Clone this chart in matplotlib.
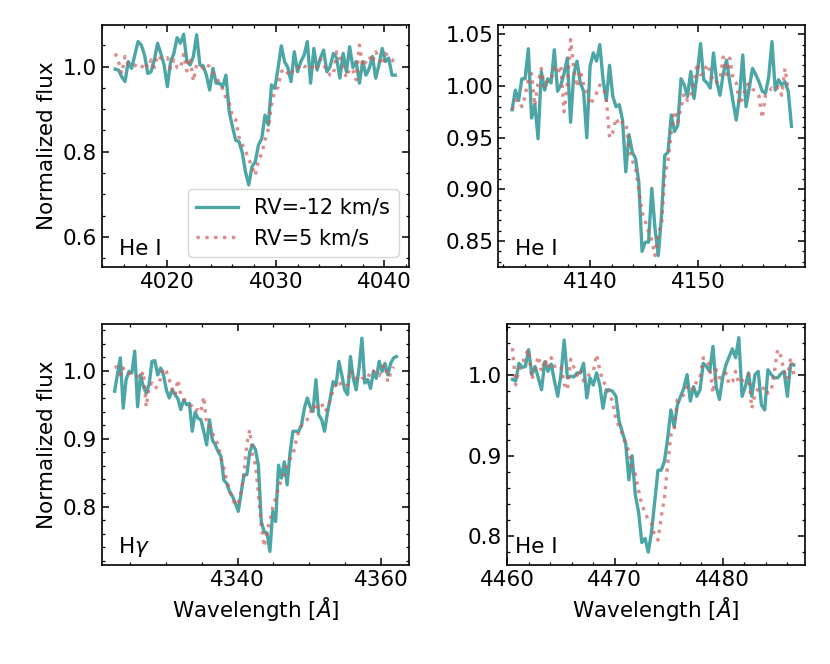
import numpy as np
import matplotlib
matplotlib.use('Agg')
import matplotlib.pyplot as plt
from matplotlib.ticker import MultipleLocator, AutoMinorLocator

# ── Spectra (normalized flux) ────────────────────────────────────────────
# each panel: start wavelength, step (Angstrom), flux for RV=-12 and RV=5

wl0_4026, dwl_4026 = 4015.2, 0.3
flux_4026_m12 = [
    0.994, 0.992, 0.976, 0.965, 1.012, 0.996, 1.027, 1.059, 1.051, 1.027,
    0.984, 0.988, 1.016, 1.055, 1.031, 1.004, 0.953, 1.012, 1.031, 1.068,
    1.055, 1.076, 1.012, 1.004, 1.024, 1.075, 1.004, 1.002, 0.980, 0.945,
    0.996, 0.961, 0.961, 0.953, 0.980, 0.894, 0.859, 0.827, 0.824, 0.798,
    0.753, 0.722, 0.765, 0.776, 0.816, 0.831, 0.886, 0.863, 0.957, 0.949,
    0.996, 1.049, 1.012, 0.998, 0.965, 1.035, 0.988, 1.012, 1.027, 1.059,
    0.961, 1.043, 0.992, 1.020, 1.039, 0.988, 1.000, 1.031, 1.020, 0.973,
    1.031, 0.988, 1.047, 0.998, 1.012, 0.961, 1.012, 0.980, 0.996, 1.024,
    0.973, 1.004, 1.043, 1.012, 1.020, 0.980, 0.980]
flux_4026_p5 = [
    1.031, 1.012, 0.984, 1.024, 1.004, 1.004, 1.004, 0.998, 0.996, 1.010,
    0.998, 1.016, 0.998, 1.027, 1.020, 1.017, 1.021, 0.996, 1.016, 0.998,
    0.996, 1.029, 0.990, 1.022, 0.966, 1.005, 1.004, 0.996, 1.005, 1.000,
    0.986, 0.976, 0.961, 0.947, 0.925, 0.914, 0.882, 0.875, 0.835, 0.817,
    0.802, 0.783, 0.765, 0.744, 0.780, 0.796, 0.827, 0.853, 0.910, 0.944,
    0.951, 0.988, 0.995, 0.984, 0.979, 1.000, 0.998, 1.005, 1.000, 1.002,
    1.004, 0.990, 1.002, 1.018, 1.004, 0.992, 0.980, 0.980, 1.035, 1.020,
    1.000, 0.974, 0.996, 0.991, 0.969, 1.051, 1.000, 1.012, 1.024, 1.010,
    1.035, 1.020, 1.004, 1.031, 1.024, 1.018, 1.004]

wl0_4144, dwl_4144 = 4132.8, 0.3
flux_4144_m12 = [
    0.977, 0.996, 0.986, 1.007, 1.007, 1.036, 0.969, 0.982, 0.949, 1.014,
    0.996, 1.007, 1.003, 1.035, 0.995, 1.001, 1.012, 1.027, 0.965, 1.012,
    1.024, 1.003, 0.995, 0.950, 1.019, 1.032, 1.024, 1.040, 1.006, 0.986,
    1.020, 0.990, 0.980, 0.982, 0.967, 0.917, 0.953, 0.936, 0.930, 0.907,
    0.840, 0.849, 0.849, 0.901, 0.862, 0.836, 0.875, 0.933, 0.936, 0.972,
    0.956, 0.962, 1.007, 1.001, 0.990, 1.014, 0.988, 1.012, 1.041, 1.006,
    1.003, 0.998, 1.032, 1.004, 0.991, 1.012, 1.025, 1.004, 0.985, 0.967,
    0.990, 1.030, 0.980, 0.998, 1.017, 1.011, 1.004, 0.995, 0.993, 1.009,
    1.043, 0.996, 1.006, 1.001, 1.004, 0.995, 0.961]
flux_4144_p5 = [
    0.977, 0.986, 0.986, 0.980, 0.990, 1.007, 1.012, 0.981, 1.003, 1.017,
    0.998, 1.007, 1.007, 1.017, 1.012, 1.020, 0.975, 1.001, 1.045, 1.017,
    0.999, 1.015, 1.002, 0.995, 0.982, 0.987, 0.993, 1.001, 0.999, 0.988,
    0.950, 0.955, 0.969, 0.962, 0.965, 0.965, 0.941, 0.928, 0.920, 0.899,
    0.878, 0.869, 0.859, 0.851, 0.836, 0.859, 0.865, 0.914, 0.928, 0.956,
    0.976, 0.965, 0.980, 0.993, 0.986, 0.990, 1.003, 1.022, 1.011, 1.012,
    1.021, 1.014, 1.003, 1.004, 1.006, 1.028, 1.011, 1.027, 1.007, 1.003,
    0.982, 0.988, 1.001, 1.002, 0.997, 0.995, 0.990, 0.969, 0.991, 0.995,
    0.998, 0.996, 0.999, 0.991, 1.017, 0.996]

wl0_hg, dwl_hg = 4322.9, 0.4
flux_hg_m12 = [
    0.970, 0.995, 1.019, 0.945, 0.987, 0.999, 0.997, 1.029, 0.947, 0.994,
    0.977, 0.967, 0.980, 1.014, 1.015, 0.994, 1.004, 0.994, 0.972, 0.960,
    0.972, 0.965, 0.959, 0.943, 0.957, 0.950, 0.952, 0.911, 0.939, 0.930,
    0.928, 0.911, 0.891, 0.928, 0.898, 0.891, 0.881, 0.874, 0.839, 0.834,
    0.822, 0.815, 0.805, 0.793, 0.820, 0.847, 0.847, 0.881, 0.891, 0.884,
    0.861, 0.778, 0.763, 0.761, 0.734, 0.793, 0.778, 0.861, 0.842, 0.866,
    0.832, 0.879, 0.911, 0.911, 0.911, 0.920, 0.945, 0.960, 0.947, 0.940,
    0.987, 0.935, 0.928, 0.911, 0.938, 0.960, 0.984, 0.979, 1.014, 0.994,
    0.972, 0.965, 1.021, 0.989, 0.972, 1.004, 1.048, 0.982, 0.987, 0.974,
    0.999, 0.989, 1.014, 0.999, 1.011, 0.994, 1.011, 1.019, 1.021]
flux_hg_p5 = [
    1.005, 1.006, 0.994, 1.004, 0.997, 0.996, 0.997, 0.994, 0.992, 0.989,
    0.999, 0.947, 0.978, 0.982, 0.974, 0.977, 0.989, 1.004, 0.999, 0.987,
    0.974, 0.964, 0.987, 0.965, 0.959, 0.954, 0.950, 0.948, 0.941, 0.943,
    0.939, 0.962, 0.920, 0.918, 0.908, 0.900, 0.891, 0.871, 0.857, 0.837,
    0.825, 0.812, 0.802, 0.805, 0.822, 0.849, 0.893, 0.913, 0.876, 0.861,
    0.820, 0.773, 0.741, 0.765, 0.778, 0.799, 0.812, 0.827, 0.839, 0.848,
    0.861, 0.870, 0.876, 0.895, 0.910, 0.920, 0.922, 0.928, 0.938, 0.950,
    0.941, 0.952, 0.952, 0.940, 0.944, 0.957, 0.973, 0.980, 0.985, 0.977,
    0.977, 0.979, 1.001, 0.990, 0.989, 0.985, 0.989, 0.988, 0.988, 1.001,
    1.000, 0.994, 0.993, 1.004, 1.009, 0.984, 0.997, 1.006]

wl0_4471, dwl_4471 = 4460.5, 0.3
flux_4471_m12 = [
    0.995, 0.993, 1.015, 1.010, 1.011, 1.032, 1.001, 1.011, 0.997, 0.982,
    1.017, 1.005, 1.014, 0.993, 0.974, 1.001, 1.044, 0.997, 0.999, 0.998,
    1.003, 1.003, 1.015, 0.972, 0.997, 0.988, 1.003, 0.988, 0.959, 0.982,
    0.982, 0.980, 0.974, 0.943, 0.929, 0.916, 0.870, 0.900, 0.851, 0.830,
    0.792, 0.797, 0.780, 0.805, 0.843, 0.882, 0.882, 0.893, 0.922, 0.957,
    0.936, 0.963, 0.974, 0.984, 1.001, 0.968, 0.986, 0.974, 0.982, 1.015,
    1.011, 1.005, 1.036, 0.986, 0.970, 0.997, 1.013, 1.023, 1.033, 1.022,
    1.047, 0.974, 0.986, 1.003, 0.974, 1.001, 1.005, 0.963, 0.957, 1.007,
    1.001, 0.997, 0.997, 1.002, 1.005, 0.974, 1.013, 1.013]
flux_4471_p5 = [
    1.034, 0.988, 1.007, 1.012, 1.026, 1.032, 0.995, 1.007, 1.024, 1.005,
    1.020, 1.009, 1.022, 1.011, 1.013, 1.011, 0.989, 0.982, 1.020, 1.010,
    1.000, 1.007, 0.993, 0.998, 1.002, 1.005, 1.026, 1.007, 0.992, 0.988,
    0.975, 0.968, 0.945, 0.936, 0.927, 0.914, 0.906, 0.886, 0.877, 0.857,
    0.839, 0.830, 0.820, 0.816, 0.800, 0.795, 0.824, 0.847, 0.889, 0.926,
    0.930, 0.970, 0.972, 0.976, 0.986, 0.988, 0.982, 0.993, 0.997, 1.022,
    1.020, 1.011, 0.978, 1.007, 0.997, 0.997, 1.003, 0.989, 0.992, 1.005,
    0.990, 0.993, 0.997, 1.001, 0.959, 0.976, 0.984, 0.981, 0.986, 0.978,
    0.980, 1.005, 1.032, 1.024, 1.005, 0.995, 1.022, 1.001]

line_names = ['He I', 'He I', r'H$\gamma$', 'He I']
rv_labels = ['RV=-12 km/s', 'RV=5 km/s']

# ── Figure ───────────────────────────────────────────────────────────────

FS = 15.5
plt.rcParams.update({
    'font.size': FS,
    'axes.linewidth': 1.2,
    'xtick.direction': 'in', 'ytick.direction': 'in',
    'xtick.top': True, 'ytick.right': True,
    'xtick.major.size': 5, 'ytick.major.size': 5,
    'xtick.minor.size': 2.5, 'ytick.minor.size': 2.5,
    'xtick.major.width': 1.1, 'ytick.major.width': 1.1,
    'xtick.minor.width': 0.9, 'ytick.minor.width': 0.9,
})

fig = plt.figure(figsize=(8.3, 6.64), dpi=100)

panels = [
    # rect, wl0, dwl, teal, red, xlim, ylim, xmajor, ymajor, text x
    ([0.1229, 0.5979, 0.3699, 0.3645], wl0_4026, dwl_4026, flux_4026_m12, flux_4026_p5,
     (4013.98, 4042.27), (0.529, 1.098), 10, 0.2, 0.056),
    ([0.6004, 0.5979, 0.3695, 0.3645], wl0_4144, dwl_4144, flux_4144_m12, flux_4144_p5,
     (4131.53, 4159.85), (0.825, 1.059), 10, 0.05, 0.054),
    ([0.1229, 0.1491, 0.3699, 0.3630], wl0_hg, dwl_hg, flux_hg_m12, flux_hg_p5,
     (4321.15, 4363.85), (0.714, 1.069), 20, 0.1, 0.052),
    ([0.6105, 0.1491, 0.3594, 0.3630], wl0_4471, dwl_4471, flux_4471_m12, flux_4471_p5,
     (4459.97, 4487.64), (0.764, 1.064), 10, 0.1, 0.028),
]

axes = []
for i, (rect, wl0, dwl, f_m12, f_p5, xl, yl, xmaj, ymaj, tx) in enumerate(panels):
    ax = fig.add_axes(rect)
    wl_m12 = wl0 + dwl * np.arange(len(f_m12))
    wl_p5 = wl0 + dwl * np.arange(len(f_p5))
    ax.plot(wl_m12, f_m12, '-', color='teal', alpha=0.7, lw=2.4, label=rv_labels[0])
    ax.plot(wl_p5, f_p5, ':', color='indianred', alpha=0.7, lw=2.4, label=rv_labels[1])
    ax.set_xlim(*xl)
    ax.set_ylim(*yl)
    ax.xaxis.set_major_locator(MultipleLocator(xmaj))
    ax.yaxis.set_major_locator(MultipleLocator(ymaj))
    ax.xaxis.set_minor_locator(AutoMinorLocator())
    ax.yaxis.set_minor_locator(AutoMinorLocator())
    ax.tick_params(which='both', top=True, right=True)
    ax.text(tx, 0.05, line_names[i], transform=ax.transAxes, va='baseline', ha='left')
    if i % 2 == 0:
        ax.set_ylabel('Normalized flux')
    if i >= 2:
        ax.set_xlabel(r'Wavelength [$\AA$]')
    axes.append(ax)

axes[0].legend(loc='lower right', fontsize=15)

fig.savefig('out.png', dpi=100)
